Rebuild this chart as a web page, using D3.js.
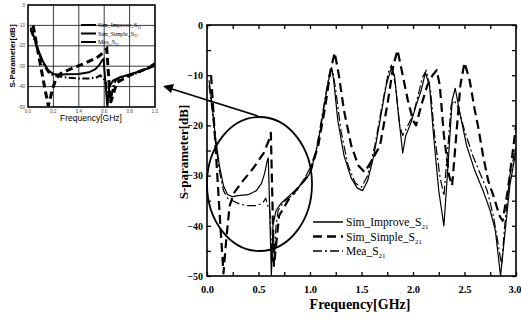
<!DOCTYPE html>
<html>
<head>
<meta charset="utf-8">
<script src="https://cdn.jsdelivr.net/npm/d3@7"></script>
<style>
  body { margin: 0; background: #fff; }
  svg { display: block; }
</style>
</head>
<body>
<div id="chart"></div>
<script>
// Sim_Simple_S21 (dashed)
const simpleF  = [0.04,0.07,0.10,0.13,0.16,0.19,0.22,0.26,0.35,0.45,0.55,0.60,0.62,0.635,0.65,0.67,0.70,0.80,0.90,1.00,1.08,1.15,1.20,1.24,1.28,1.33,1.40,1.47,1.53,1.60,1.68,1.75,1.81,1.85,1.90,1.95,2.00,2.03,2.08,2.14,2.19,2.23,2.26,2.30,2.35,2.38,2.42,2.46,2.50,2.55,2.60,2.63,2.68,2.73,2.78,2.84,2.87,2.92,2.97,3.00];
const simpleDb = [-10,-20,-30,-40,-49.5,-42,-36,-33.5,-31,-28.5,-25.5,-23,-21.5,-35,-48,-44,-38,-34.5,-32,-29.5,-24,-16,-9,-5.5,-10,-17,-24,-28,-29.3,-27,-24,-16,-8,-5,-10,-15,-19,-20,-16,-12,-10,-9,-12,-22,-30,-32,-22,-12,-7.5,-11,-17,-20,-26,-31,-34,-38,-39,-33,-25,-20];

// Sim_Improve_S21 (solid)
const improveF  = [0.02,0.05,0.08,0.12,0.16,0.20,0.25,0.30,0.40,0.48,0.53,0.56,0.585,0.595,0.61,0.625,0.64,0.67,0.72,0.80,0.88,0.95,1.00,1.05,1.10,1.15,1.19,1.21,1.23,1.27,1.33,1.40,1.46,1.51,1.56,1.62,1.68,1.74,1.79,1.82,1.86,1.90,1.93,1.98,2.03,2.08,2.12,2.16,2.20,2.25,2.30,2.34,2.38,2.41,2.45,2.52,2.60,2.68,2.75,2.80,2.85,2.89,2.94,3.00];
const improveDb = [-11,-16,-22,-28,-32,-33.8,-34.2,-34,-33.8,-33,-31.5,-29.5,-27,-26.5,-38,-50,-40,-37,-35.5,-34,-32.5,-31,-29.5,-26,-21,-14.5,-10,-8.5,-11,-19,-26,-30.5,-32.5,-33,-31,-26,-19,-12,-8.5,-10,-18,-25.5,-22,-19.5,-16,-13,-9.5,-12,-22,-33,-40,-28,-15,-12.6,-17,-24,-29,-33,-37,-41,-50,-42,-32,-25];

// Mea_S21 (dash-dot)
const meaF  = [0.02,0.05,0.08,0.12,0.16,0.20,0.25,0.32,0.40,0.48,0.54,0.57,0.59,0.61,0.625,0.635,0.645,0.655,0.67,0.69,0.72,0.76,0.82,0.86,0.90,0.95,1.00,1.06,1.11,1.16,1.19,1.22,1.25,1.30,1.37,1.44,1.50,1.56,1.63,1.70,1.76,1.79,1.83,1.87,1.90,1.95,2.00,2.05,2.09,2.13,2.17,2.21,2.26,2.30,2.34,2.37,2.40,2.44,2.50,2.58,2.66,2.72,2.78,2.83,2.86,2.89,2.94,3.00];
const meaDb = [-12,-17,-23,-29,-33,-34.5,-35,-35.7,-36,-36,-35.5,-34.5,-36,-37,-44,-47,-42,-46,-40,-37,-36,-35,-34,-33.5,-32,-30.5,-28.5,-25,-19,-13,-9.5,-9,-13,-21,-28,-31.5,-32.3,-30,-24,-16,-9.5,-8,-12,-20,-22,-20,-18,-14,-10.5,-9,-13,-22,-30,-34,-24,-16,-15,-16.5,-21,-26,-30,-33,-38,-44,-48,-40,-30,-24];

const xTicks = [0, 0.5, 1.0, 1.5, 2.0, 2.5, 3.0];
const yTicks = [0, -10, -20, -30, -40, -50];
const insetXTicks = [0, 0.2, 0.4, 0.6, 0.8, 1.0];
const insetYTicks = [0, -10, -20, -30, -40, -50];

const series = [
  { name: "Sim_Improve_S", f: improveF, db: improveDb, width: 1.2, dash: null },
  { name: "Sim_Simple_S", f: simpleF, db: simpleDb, width: 2.2, dash: "9,5" },
  { name: "Mea_S", f: meaF, db: meaDb, width: 1.2, dash: "9,3,2,3" }
];

const W = 521, H = 320;
const svg = d3.select("#chart").append("svg").attr("width", W).attr("height", H);
const serif = "'Liberation Serif','Times New Roman',serif";
const sans = "'Liberation Sans',Arial,sans-serif";

// ---------- main chart ----------
const x = d3.scaleLinear().domain([0, 3]).range([207, 516]);
const y = d3.scaleLinear().domain([0, -50]).range([25, 276]);

const main = svg.append("g");
main.append("defs").append("clipPath").attr("id", "mainClip")
  .append("rect").attr("x", 207).attr("y", 25).attr("width", 309).attr("height", 251);

const line = (sx, sy) => d3.line().x(d => sx(d[0])).y(d => sy(d[1]));

const curves = main.append("g").attr("clip-path", "url(#mainClip)");
series.forEach(s => {
  curves.append("path")
    .datum(d3.zip(s.f, s.db))
    .attr("d", line(x, y))
    .attr("fill", "none")
    .attr("stroke", "#000")
    .attr("stroke-width", s.width)
    .attr("stroke-dasharray", s.dash)
    .attr("stroke-linejoin", "round");
});

// frame and axes
main.append("rect").attr("x", 207).attr("y", 25).attr("width", 309).attr("height", 251)
  .attr("fill", "none").attr("stroke", "#000").attr("stroke-width", 1.6);

const minorX = d3.range(0, 3.01, 0.25);
const minorY = d3.range(0, -50.1, -5);

main.append("g").attr("transform", "translate(0,276)")
  .call(d3.axisBottom(x).tickValues(minorX).tickSize(-4).tickFormat(""))
  .call(g => g.select(".domain").remove());
main.append("g").attr("transform", "translate(0,25)")
  .call(d3.axisTop(x).tickValues(minorX).tickSize(-4).tickFormat(""))
  .call(g => g.select(".domain").remove());
main.append("g").attr("transform", "translate(207,0)")
  .call(d3.axisLeft(y).tickValues(minorY).tickSize(-4).tickFormat(""))
  .call(g => g.select(".domain").remove());
main.append("g").attr("transform", "translate(516,0)")
  .call(d3.axisRight(y).tickValues(minorY).tickSize(-4).tickFormat(""))
  .call(g => g.select(".domain").remove());
main.selectAll(".tick line").attr("stroke-width", 1.3);

main.append("g").attr("transform", "translate(0,276)")
  .call(d3.axisBottom(x).tickValues(xTicks).tickSize(0).tickPadding(10).tickFormat(d3.format(".1f")))
  .call(g => g.select(".domain").remove())
  .call(g => g.selectAll("text").attr("font-family", serif).attr("font-weight", "bold").attr("font-size", 10.5))
  .call(g => g.selectAll("text").filter(d => d === 3).attr("text-anchor", "end").attr("dx", 5));

main.append("g").attr("transform", "translate(207,0)")
  .call(d3.axisLeft(y).tickValues(yTicks).tickSize(0).tickPadding(4).tickFormat(d => d === 0 ? "0" : d3.format("d")(d)))
  .call(g => g.select(".domain").remove())
  .call(g => g.selectAll("text").attr("font-family", serif).attr("font-weight", "bold").attr("font-size", 10));

main.append("text").attr("x", 360).attr("y", 309).attr("text-anchor", "middle")
  .attr("font-family", serif).attr("font-weight", "bold").attr("font-size", 14)
  .text("Frequency[GHz]");
main.append("text").attr("transform", "translate(188,152) rotate(-90)").attr("text-anchor", "middle")
  .attr("font-family", serif).attr("font-weight", "bold").attr("font-size", 13)
  .text("S-parameter[dB]");

// legend
const legend = main.append("g");
series.forEach((s, i) => {
  const ly = 222 + i * 14.5;
  legend.append("line").attr("x1", 313).attr("x2", 343).attr("y1", ly).attr("y2", ly)
    .attr("stroke", "#000").attr("stroke-width", s.width + 0.3).attr("stroke-dasharray", s.dash);
  const t = legend.append("text").attr("x", 346).attr("y", ly + 4)
    .attr("font-family", serif).attr("font-size", 11.5).text(s.name);
  t.append("tspan").attr("font-size", 7).attr("dy", 3).text("21");
});

// ellipse highlighting the region
main.append("ellipse").attr("cx", 259.5).attr("cy", 184).attr("rx", 52.5).attr("ry", 67)
  .attr("fill", "none").attr("stroke", "#000").attr("stroke-width", 1.8);

// arrow to inset
svg.append("line").attr("x1", 258).attr("y1", 116).attr("x2", 172).attr("y2", 89)
  .attr("stroke", "#000").attr("stroke-width", 1.6);
svg.append("path").attr("d", "M163,86 L174,84 L171,93 Z").attr("fill", "#000");

// ---------- inset ----------
const ix = d3.scaleLinear().domain([0, 1]).range([28, 155]);
const iy = d3.scaleLinear().domain([0, -50]).range([5, 107]);
const inset = svg.append("g");
inset.append("defs").append("clipPath").attr("id", "insetClip")
  .append("rect").attr("x", 28).attr("y", 5).attr("width", 127).attr("height", 102);

inset.append("g").selectAll("line.v").data(insetXTicks.slice(1, -1)).join("line")
  .attr("x1", d => ix(d)).attr("x2", d => ix(d)).attr("y1", 5).attr("y2", 107)
  .attr("stroke", "#222").attr("stroke-width", 0.9);
inset.append("g").selectAll("line.h").data(insetYTicks.slice(1, -1)).join("line")
  .attr("y1", d => iy(d)).attr("y2", d => iy(d)).attr("x1", 28).attr("x2", 155)
  .attr("stroke", "#222").attr("stroke-width", 0.9);

const icurves = inset.append("g").attr("clip-path", "url(#insetClip)");
series.forEach(s => {
  icurves.append("path")
    .datum(d3.zip(s.f, s.db).filter(d => d[0] <= 1.05))
    .attr("d", line(ix, iy))
    .attr("fill", "none").attr("stroke", "#000")
    .attr("stroke-width", s.width + 0.8)
    .attr("stroke-dasharray", s.dash ? s.dash.split(",").map(v => v * 0.8).join(",") : null);
});

inset.append("rect").attr("x", 28).attr("y", 5).attr("width", 127).attr("height", 102)
  .attr("fill", "none").attr("stroke", "#000").attr("stroke-width", 1.6);

inset.selectAll("text.ixt").data(insetXTicks).join("text")
  .attr("x", d => ix(d)).attr("y", 113).attr("text-anchor", "middle")
  .attr("font-family", sans).attr("font-size", 4.5).attr("fill", "#444")
  .text(d => d3.format(".1f")(d));
inset.selectAll("text.iyt").data(insetYTicks).join("text")
  .attr("x", 25).attr("y", d => iy(d) + 1.5).attr("text-anchor", "end")
  .attr("font-family", sans).attr("font-size", 4.5).attr("fill", "#444")
  .text(d => d);

inset.append("text").attr("x", 91).attr("y", 121).attr("text-anchor", "middle")
  .attr("font-family", sans).attr("font-size", 8.5).text("Frequency[GHz]");
inset.append("text").attr("transform", "translate(15,56) rotate(-90)").attr("text-anchor", "middle")
  .attr("font-family", sans).attr("font-weight", "bold").attr("font-size", 8).text("S-Parameter[dB]");

series.forEach((s, i) => {
  const ly = 25 + i * 8.5;
  inset.append("line").attr("x1", 81).attr("x2", 96).attr("y1", ly).attr("y2", ly)
    .attr("stroke", "#000").attr("stroke-width", 2);
  const t = inset.append("text").attr("x", 98).attr("y", ly + 2)
    .attr("font-family", serif).attr("font-size", 6).text(s.name);
  t.append("tspan").attr("font-size", 4).attr("dy", 1.5).text("21");
});
</script>
</body>
</html>
